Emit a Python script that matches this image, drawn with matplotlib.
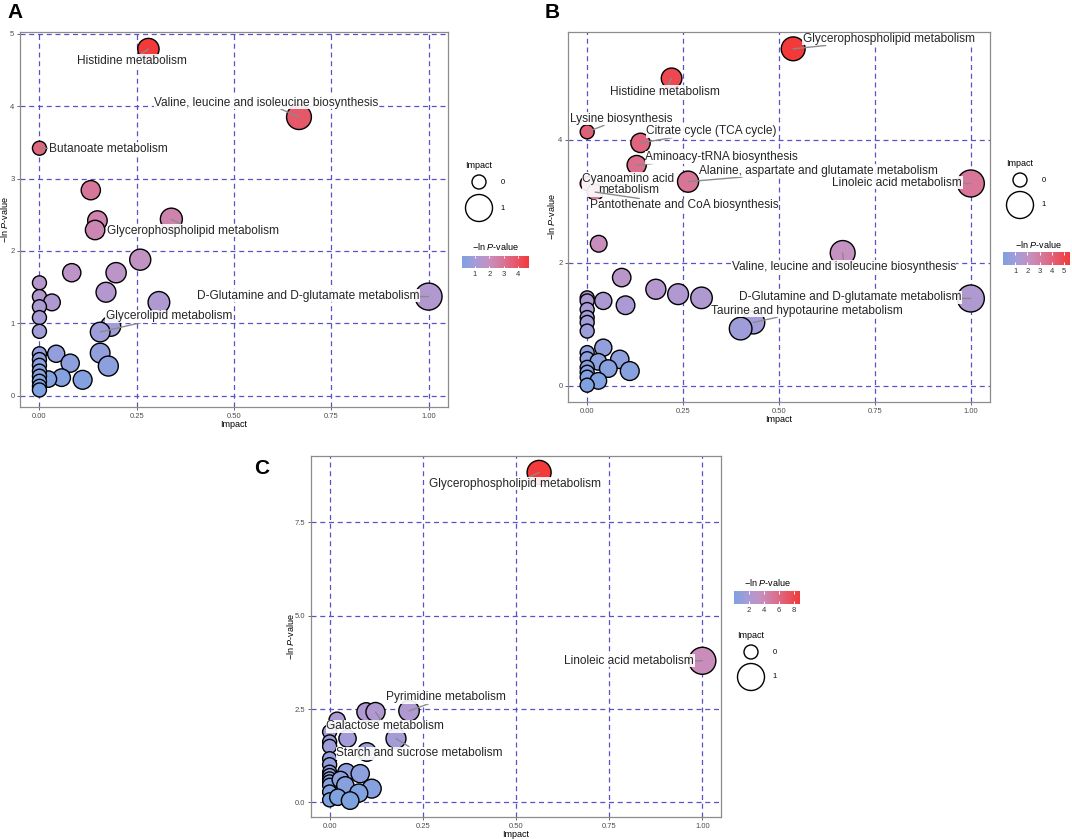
import numpy as np
import matplotlib
matplotlib.use('Agg')
import matplotlib.pyplot as plt
from matplotlib.colors import LinearSegmentedColormap, Normalize

plt.rcParams['font.family'] = 'Liberation Sans'
plt.rcParams['mathtext.fontset'] = 'custom'
plt.rcParams['mathtext.rm'] = 'Liberation Sans'
plt.rcParams['mathtext.it'] = 'Liberation Sans:italic'

# ---- data: panel A ----
a_impact = [0.28, 0.667, 0.0, 0.132, 0.149, 0.143, 0.339, 0.259, 0.083, 0.197,
            0.171, 0.307, 1.0, 0.0, 0.0, 0.032, 0.0, 0.0, 0.0, 0.183,
            0.156, 0.156, 0.177, 0.043, 0.079, 0.057, 0.111, 0.023, 0.0, 0.0,
            0.0, 0.0, 0.0, 0.0, 0.0, 0.0]
a_logp = [4.79, 3.85, 3.42, 2.84, 2.42, 2.29, 2.44, 1.88, 1.70, 1.70,
          1.43, 1.29, 1.37, 1.56, 1.37, 1.29, 1.23, 1.08, 0.89, 0.96,
          0.88, 0.59, 0.41, 0.58, 0.45, 0.25, 0.22, 0.23, 0.58, 0.50,
          0.42, 0.34, 0.27, 0.20, 0.13, 0.08]
a_names = {0: 'Histidine metabolism',
           1: 'Valine, leucine and isoleucine biosynthesis',
           2: 'Butanoate metabolism',
           6: 'Glycerophospholipid metabolism',
           12: 'D-Glutamine and D-glutamate metabolism',
           20: 'Glycerolipid metabolism'}

# ---- data: panel B ----
b_impact = [0.537, 0.22, 0.0, 0.139, 0.129, 0.263, 1.0, 0.0, 0.021, 0.03,
            0.666, 0.09, 0.179, 0.237, 0.298, 1.0, 0.042, 0.1, 0.0, 0.0,
            0.0, 0.0, 0.0, 0.0, 0.433, 0.4, 0.042, 0.0, 0.0, 0.085,
            0.029, 0.055, 0.111, 0.0, 0.0, 0.0, 0.029, 0.0]
b_logp = [5.48, 5.0, 4.13, 3.95, 3.59, 3.32, 3.29, 3.29, 3.15, 2.31,
          2.16, 1.76, 1.57, 1.49, 1.43, 1.42, 1.38, 1.31, 1.43, 1.38,
          1.24, 1.11, 1.03, 0.89, 1.03, 0.93, 0.62, 0.54, 0.44, 0.43,
          0.39, 0.28, 0.24, 0.30, 0.22, 0.14, 0.08, 0.01]
b_names = {0: 'Glycerophospholipid metabolism',
           1: 'Histidine metabolism',
           2: 'Lysine biosynthesis',
           3: 'Citrate cycle (TCA cycle)',
           4: 'Aminoacy-tRNA biosynthesis',
           5: 'Alanine, aspartate and glutamate metabolism',
           6: 'Linoleic acid metabolism',
           7: 'Cyanoamino acid\nmetabolism',
           8: 'Pantothenate and CoA biosynthesis',
           10: 'Valine, leucine and isoleucine biosynthesis',
           15: 'D-Glutamine and D-glutamate metabolism',
           24: 'Taurine and hypotaurine metabolism'}

# ---- data: panel C ----
c_impact = [0.562, 1.0, 0.213, 0.098, 0.123, 0.02, 0.0, 0.048, 0.178, 0.1,
            0.0, 0.0, 0.0, 0.0, 0.0, 0.0, 0.0, 0.0, 0.0, 0.0,
            0.0, 0.045, 0.082, 0.029, 0.042, 0.113, 0.078, 0.022, 0.055]
c_logp = [8.83, 3.79, 2.45, 2.42, 2.42, 2.20, 1.89, 1.71, 1.71, 1.35,
          1.62, 1.50, 1.17, 1.01, 0.81, 0.72, 0.63, 0.55, 0.46, 0.28,
          0.07, 0.81, 0.77, 0.61, 0.46, 0.37, 0.25, 0.14, 0.05]
c_names = {0: 'Glycerophospholipid metabolism',
           1: 'Linoleic acid metabolism',
           2: 'Pyrimidine metabolism',
           4: 'Galactose metabolism',
           8: 'Starch and sucrose metabolism'}

# label placement (data coords of label centre)
a_label_pos = {0: (0.237, 4.63), 1: (0.583, 4.05), 2: (0.177, 3.41),
               6: (0.395, 2.28), 12: (0.69, 1.38), 20: (0.333, 1.10)}
b_label_pos = {0: (0.786, 5.64), 1: (0.202, 4.78), 2: (0.088, 4.34),
               3: (0.324, 4.14), 4: (0.35, 3.72), 5: (0.602, 3.50),
               6: (0.808, 3.30), 7: (0.107, 3.27), 8: (0.252, 2.94),
               10: (0.669, 1.94), 15: (0.685, 1.44), 24: (0.573, 1.22)}
c_label_pos = {0: (0.497, 8.53), 1: (0.804, 3.79), 2: (0.3125, 2.81),
               4: (0.149, 2.04), 8: (0.241, 1.32)}

W, H = 1072, 839
cmap = LinearSegmentedColormap.from_list(
    'bluered', [(0, '#7EA2E0'), (0.2, '#A59CD8'), (0.4, '#C591C0'),
                (0.65, '#DC6F8E'), (1, '#F23A3A')])
GRID = '#5A50C8'


def bubble_size(imp):
    d = 14 + 13 * np.power(np.asarray(imp, dtype=float), 0.45)
    return (d * 0.72) ** 2


def px_axes(fig, left, top, right, bottom):
    return fig.add_axes([left / W, 1 - bottom / H, (right - left) / W, (bottom - top) / H])


def draw_panel(ax, impact, logp, names, label_pos, yticks, yfmt, ylab_x):
    impact = np.array(impact)
    logp = np.array(logp)
    norm = Normalize(logp.min(), logp.max())
    ax.scatter(impact, logp, s=bubble_size(impact), c=logp, cmap=cmap, norm=norm,
               edgecolors='black', linewidths=1.0, zorder=3)
    for i, name in names.items():
        ax.annotate(name, xy=(impact[i], logp[i]), xytext=label_pos[i],
                    ha='center', va='center', fontsize=8.6, color='#262626',
                    linespacing=0.95,
                    bbox=dict(boxstyle='square,pad=0.04', fc='white', ec='none', alpha=0.9),
                    arrowprops=dict(arrowstyle='-', color='#8A8A8A', lw=1.0,
                                    shrinkA=0, shrinkB=0),
                    zorder=6)
    span = logp.max() - logp.min()
    ax.set_ylim(logp.min() - 0.05 * span, logp.max() + 0.05 * span)
    ax.set_xlim(-0.05, 1.05)
    ax.set_xticks([0, 0.25, 0.5, 0.75, 1.0])
    ax.set_xticklabels(['0.00', '0.25', '0.50', '0.75', '1.00'])
    ax.set_yticks(yticks)
    ax.set_yticklabels([yfmt.format(v) for v in yticks])
    ax.grid(True, linestyle=(0, (4, 3)), color=GRID, lw=0.9)
    ax.set_axisbelow(True)
    ax.tick_params(labelsize=5.5, labelcolor='#4D4D4D', color='#4D4D4D',
                   length=2.5, width=0.6, pad=1.5)
    for sp in ax.spines.values():
        sp.set_color('#8C8C8C')
        sp.set_linewidth(0.9)
    ax.set_xlabel('Impact', fontsize=6.5, labelpad=0.5)
    ax.set_ylabel('\u2212ln $\\mathit{P}$-value', fontsize=6.5)
    ax.yaxis.set_label_coords(ylab_x, 0.5)
    return norm


def draw_colorbar(fig, norm, rect, ticks):
    cax = px_axes(fig, *rect)
    vals = np.linspace(norm.vmin, norm.vmax, 256)
    cax.imshow(vals[None, :], aspect='auto', cmap=cmap, norm=norm,
               extent=[norm.vmin, norm.vmax, 0, 1])
    cax.vlines(ticks, 0, 0.2, color='white', lw=0.7)
    cax.vlines(ticks, 0.8, 1, color='white', lw=0.7)
    cax.set_xlim(norm.vmin, norm.vmax)
    cax.set_ylim(0, 1)
    cax.set_xticks(ticks)
    cax.set_yticks([])
    cax.tick_params(length=0, labelsize=5.5, labelcolor='#333333', pad=2)
    for sp in cax.spines.values():
        sp.set_visible(False)


def draw_size_legend(ov, x, y_title, y0, y1):
    ov.text(x, y_title, 'Impact', ha='center', va='center', fontsize=6.5)
    ov.scatter([x, x], [y0, y1], s=bubble_size([0, 1]), facecolors='none',
               edgecolors='black', linewidths=1.0)
    ov.text(x + 24, y0, '0', ha='center', va='center', fontsize=5.5)
    ov.text(x + 24, y1, '1', ha='center', va='center', fontsize=5.5)


fig = plt.figure(figsize=(W / 100, H / 100), dpi=100)
fig.patch.set_facecolor('white')

ax_a = px_axes(fig, 20, 32, 448, 407)
ax_b = px_axes(fig, 568, 32, 990, 402)
ax_c = px_axes(fig, 311, 456, 721, 817)

norm_a = draw_panel(ax_a, a_impact, a_logp, a_names, a_label_pos,
                    [0, 1, 2, 3, 4, 5], '{:g}', -0.023)
norm_b = draw_panel(ax_b, b_impact, b_logp, b_names, b_label_pos,
                    [0, 2, 4], '{:g}', -0.026)
norm_c = draw_panel(ax_c, c_impact, c_logp, c_names, c_label_pos,
                    [0, 2.5, 5, 7.5], '{:.1f}', -0.037)

ov = fig.add_axes([0, 0, 1, 1], zorder=10)
ov.set_xlim(0, W)
ov.set_ylim(H, 0)
ov.axis('off')

draw_size_legend(ov, 479, 165, 182, 208)
ov.text(495, 247, '\u2212ln $\\mathit{P}$-value', ha='center', va='center', fontsize=6.5)
draw_colorbar(fig, norm_a, (462, 256, 529, 268), [1, 2, 3, 4])

draw_size_legend(ov, 1020, 163, 180, 205)
ov.text(1038, 245, '\u2212ln $\\mathit{P}$-value', ha='center', va='center', fontsize=6.5)
draw_colorbar(fig, norm_b, (1003, 252, 1070, 265), [1, 2, 3, 4, 5])

ov.text(767, 583, '\u2212ln $\\mathit{P}$-value', ha='center', va='center', fontsize=6.5)
draw_colorbar(fig, norm_c, (734, 591, 800, 604), [2, 4, 6, 8])
draw_size_legend(ov, 751, 636, 652, 677)

for letter, (x, y) in zip('ABC', [(15, 12), (552, 12), (262, 468)]):
    ov.text(x, y, letter, ha='center', va='center', fontsize=15, fontweight='bold')

fig.savefig('out.png', dpi=100, facecolor='white')
